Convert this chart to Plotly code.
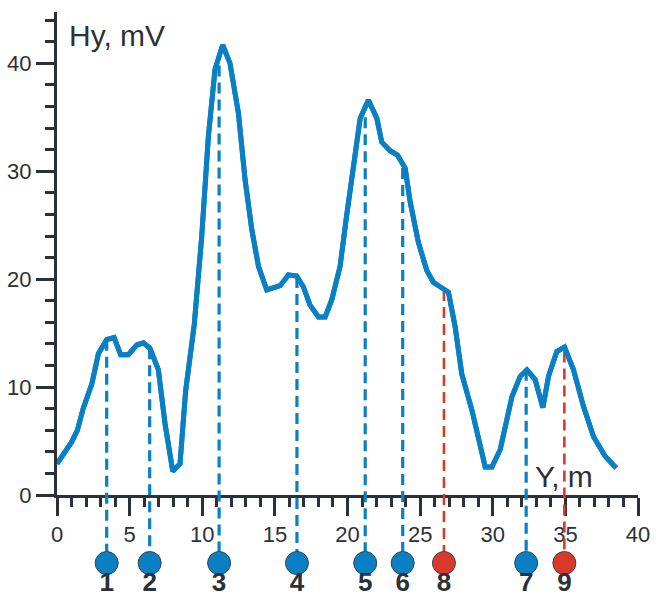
import plotly.graph_objects as go

# ---- data ----
curve_x = [0.0, 0.5, 1.0, 1.4, 1.8, 2.4, 2.85, 3.42, 3.93, 4.38, 4.91, 5.49, 5.95, 6.4, 6.98,
           7.44, 7.97, 8.47, 8.86, 9.45, 9.96, 10.42, 10.88, 11.41, 11.91, 12.49, 12.95, 13.41,
           13.87, 14.44, 14.9, 15.36, 15.93, 16.5, 16.96, 17.42, 18.0, 18.46, 18.92, 19.49, 19.9,
           20.41, 20.87, 21.44, 22.02, 22.36, 22.93, 23.44, 23.97, 24.31, 24.88, 25.46, 25.92,
           26.38, 26.95, 27.41, 27.87, 28.56, 29.13, 29.48, 29.94, 30.51, 31.32, 31.89, 32.35,
           32.92, 33.45, 33.84, 34.41, 34.94, 35.56, 36.25, 36.94, 37.74, 38.5]
curve_y = [2.9, 3.9, 4.9, 6.0, 8.0, 10.3, 13.1, 14.4, 14.6, 13.0, 13.0, 13.9, 14.1, 13.6, 11.6,
           6.6, 2.2, 2.9, 9.7, 15.8, 23.9, 33.2, 39.45, 41.7, 40.0, 35.4, 29.2, 24.6,
           21.2, 19.0, 19.2, 19.4, 20.4, 20.3, 19.3, 17.6, 16.5, 16.5, 18.1, 21.2, 25.5,
           30.1, 34.9, 36.6, 34.9, 32.7, 31.9, 31.5, 30.3, 27.2, 23.4, 20.8, 19.7,
           19.3, 18.8, 15.6, 11.2, 7.9, 4.5, 2.6, 2.6, 4.2, 9.1, 11.0, 11.6,
           10.7, 8.1, 11.0, 13.3, 13.7, 11.6, 8.2, 5.4, 3.6, 2.5]

point_labels = ["1", "2", "3", "4", "5", "6", "8", "7", "9"]
point_x = [3.42, 6.38, 11.16, 16.52, 21.22, 23.8, 26.64, 32.3, 34.93]
point_top = [14.4, 13.6, 39.8, 20.2, 35.0, 30.3, 19.0, 11.6, 13.3]
point_kind = ["b", "b", "b", "b", "b", "b", "r", "b", "r"]

x_ticks = [0, 5, 10, 15, 20, 25, 30, 35, 40]
y_ticks = [0, 10, 20, 30, 40]

# ---- style ----
BLUE = "#0a80c4"
RED = "#d8392b"
DARK = "#2b3136"
FONT = "Arial, Liberation Sans, sans-serif"

Y_TOP = 44.76
Y_BOT = -8.8
MARK_Y = -6.3
LABEL_Y = -8.3
dom_low = -Y_BOT / (Y_TOP - Y_BOT)

fig = go.Figure()

# copy on the main axis so the visible axes are drawn
fig.add_trace(go.Scatter(x=curve_x, y=curve_y, mode="lines", xaxis="x", yaxis="y",
                         line=dict(color=BLUE, width=5), hoverinfo="skip", showlegend=False))

# dashed droplines
for px, top, k in zip(point_x, point_top, point_kind):
    col = BLUE if k == "b" else RED
    w = 3.2 if k == "b" else 2.6
    fig.add_trace(go.Scatter(x=[px, px], y=[top, MARK_Y], mode="lines", xaxis="x", yaxis="y2",
                             line=dict(color=col, width=w, dash="11px,6px"),
                             hoverinfo="skip", showlegend=False))

# curve on top
fig.add_trace(go.Scatter(x=curve_x, y=curve_y, mode="lines", xaxis="x", yaxis="y2",
                         line=dict(color=BLUE, width=5), hoverinfo="skip", showlegend=False))

# station markers
fig.add_trace(go.Scatter(
    x=point_x, y=[MARK_Y] * len(point_x), mode="markers", xaxis="x", yaxis="y2",
    marker=dict(size=23, color=[BLUE if k == "b" else RED for k in point_kind],
                line=dict(color="#3a4248", width=1)),
    cliponaxis=False, hoverinfo="skip", showlegend=False))

fig.add_trace(go.Scatter(
    x=point_x, y=[LABEL_Y] * len(point_x), mode="text", xaxis="x", yaxis="y2",
    text=point_labels, textposition="middle center",
    textfont=dict(family=FONT, size=26, color=DARK, weight="bold"),
    cliponaxis=False, hoverinfo="skip", showlegend=False))

fig.update_layout(
    width=667, height=597, autosize=False,
    margin=dict(l=57, r=29, t=12, b=7, autoexpand=False),
    paper_bgcolor="white", plot_bgcolor="rgba(0,0,0,0)",
    xaxis=dict(range=[0, 40], domain=[0, 1], anchor="y", automargin=False,
               showline=True, linewidth=3, linecolor=DARK,
               ticks="outside", ticklen=18, tickwidth=3, tickcolor=DARK,
               tickvals=x_ticks, ticktext=[str(v) for v in x_ticks],
               tickfont=dict(family=FONT, size=22, color=DARK),
               minor=dict(dtick=1, tick0=0, ticks="outside", ticklen=9, tickwidth=3, tickcolor=DARK),
               showgrid=False, zeroline=False),
    yaxis=dict(range=[0, Y_TOP], domain=[dom_low, 1], anchor="x", automargin=False,
               showline=True, linewidth=3, linecolor=DARK,
               ticks="outside", ticklen=18, tickwidth=3, tickcolor=DARK,
               tickvals=y_ticks, ticktext=[str(v) for v in y_ticks],
               tickfont=dict(family=FONT, size=22, color=DARK),
               minor=dict(dtick=2, tick0=0, ticks="outside", ticklen=9, tickwidth=3, tickcolor=DARK),
               showgrid=False, zeroline=False),
    yaxis2=dict(range=[Y_BOT, Y_TOP], domain=[0, 1], anchor="x", visible=False,
                showgrid=False, zeroline=False),
    annotations=[
        dict(text="Hy, mV", x=0.7, y=42.6, xref="x", yref="y2", xanchor="left", yanchor="middle",
             showarrow=False, font=dict(family=FONT, size=30, color=DARK)),
        dict(text="Y, m", x=32.75, y=1.76, xref="x", yref="y2", xanchor="left", yanchor="middle",
             showarrow=False, font=dict(family=FONT, size=30, color=DARK)),
    ],
)

fig.write_html("out.html", config={"displayModeBar": False},
               post_script="document.body.style.margin='0';")
